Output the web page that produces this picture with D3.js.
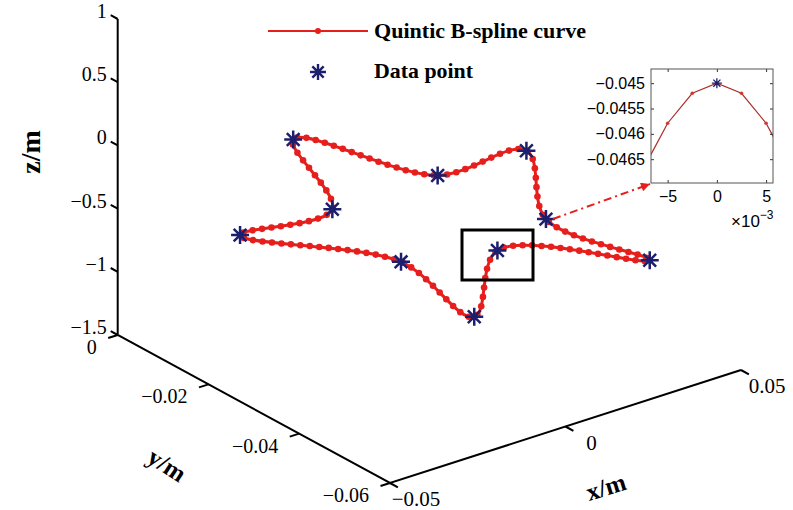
<!DOCTYPE html>
<html>
<head>
<meta charset="utf-8">
<script src="https://cdn.jsdelivr.net/npm/d3@7"></script>
<style>
body { margin: 0; background: #fff; }
text { font-family: "Liberation Serif", "Times New Roman", serif; }
.inset text { font-family: "Liberation Sans", Arial, sans-serif; }
</style>
</head>
<body>
<div id="chart"></div>
<script>
// data points of the star curve, metres
var pointX = [0, 0.014, 0.038, 0.019, 0.024, 0, -0.026, -0.021, -0.041, -0.016];
var pointY = [0, -0.021, -0.022, -0.041, -0.060, -0.045, -0.060, -0.040, -0.020, -0.021];
var pointZ = [-0.4, -0.4, -0.4, -0.4, -0.4, -0.4, -0.4, -0.4, -0.4, -0.4];

// axis ticks
var xTicks = [-0.05, 0, 0.05];
var yTicks = [0, -0.02, -0.04, -0.06];
var zTicks = [1, 0.5, 0, -0.5, -1, -1.5];

// inset: curve near the lower inner point (x in 1e-3)
var insetX = [-7.5, -5, -2.5, 0, 2.5, 5, 7.5];
var insetY = [-0.0467, -0.04579, -0.0452, -0.045, -0.0452, -0.04579, -0.0467];
var insetXTicks = [-5, 0, 5];
var insetYTicks = [-0.045, -0.0455, -0.046, -0.0465];

var width = 793, height = 510;
var red = "#e61f1d", navy = "#1b1f6e";

var svg = d3.select("#chart").append("svg")
    .attr("width", width)
    .attr("height", height);

// 3D -> screen (orthographic view, box corner at x=-0.05, y=-0.06, z=-1.5)
var xs = d3.scaleLinear().domain([-0.05, 0.05]).range([0, 1]);
var ys = d3.scaleLinear().domain([-0.06, 0]).range([0, 1]);
var zs = d3.scaleLinear().domain([-1.5, 1]).range([0, 1]);
var corner = [390, 483], ex = [351, -113], ey = [-272.3, -148], ez = [0, -316];

function proj(x, y, z) {
    var a = xs(x), b = ys(y), c = zs(z);
    return [corner[0] + a * ex[0] + b * ey[0] + c * ez[0],
            corner[1] + a * ex[1] + b * ey[1] + c * ez[1]];
}

function asterisk(r) {
    var a = r * 0.7071;
    return "M0," + (-r) + "L0," + r + "M" + (-r) + ",0L" + r + ",0" +
        "M" + (-a) + "," + (-a) + "L" + a + "," + a + "M" + (-a) + "," + a + "L" + a + "," + (-a);
}

function fmt(t) { return d3.format("~g")(t).replace("-", "\u2212"); }

// axes lines
var axes = svg.append("g").attr("stroke", "#000").attr("stroke-width", 2).attr("fill", "none");
axes.append("path").attr("d", d3.line()([proj(-0.05, 0, 1), proj(-0.05, 0, -1.5), proj(-0.05, -0.06, -1.5), proj(0.05, -0.06, -1.5)]));

// x ticks (point toward -y)
xTicks.forEach(function(t) {
    var p = proj(t, -0.06, -1.5);
    axes.append("line").attr("x1", p[0]).attr("y1", p[1]).attr("x2", p[0] + 7.9).attr("y2", p[1] + 4.3);
    svg.append("text").attr("x", p[0] + 26).attr("y", p[1] + 16)
        .attr("text-anchor", "middle").attr("dominant-baseline", "central")
        .attr("font-size", 21).text(fmt(t));
});
// y ticks (point toward -x)
yTicks.forEach(function(t) {
    var p = proj(-0.05, t, -1.5);
    axes.append("line").attr("x1", p[0]).attr("y1", p[1]).attr("x2", p[0] - 9.5).attr("y2", p[1] + 3);
    svg.append("text").attr("x", p[0] - 21).attr("y", p[1] + 12)
        .attr("text-anchor", "end").attr("dominant-baseline", "central")
        .attr("font-size", 20).text(fmt(t));
});
// z ticks (point toward +y)
zTicks.forEach(function(t) {
    var p = proj(-0.05, 0, t);
    axes.append("line").attr("x1", p[0]).attr("y1", p[1]).attr("x2", p[0] - 7).attr("y2", p[1] - 3.8);
    svg.append("text").attr("x", p[0] - 11).attr("y", p[1] - 8)
        .attr("text-anchor", "end").attr("dominant-baseline", "central")
        .attr("font-size", 20).text(fmt(t));
});

// axis labels
svg.append("text").attr("transform", "translate(30,152) rotate(-90)")
    .attr("text-anchor", "middle").attr("dominant-baseline", "central")
    .attr("font-size", 28).attr("font-weight", "bold").text("z/m");
svg.append("text").attr("transform", "translate(606,487) rotate(-17)")
    .attr("text-anchor", "middle").attr("dominant-baseline", "central")
    .attr("font-size", 25).attr("font-weight", "bold").text("x/m");
svg.append("text").attr("transform", "translate(167,465) rotate(33)")
    .attr("text-anchor", "middle").attr("dominant-baseline", "central")
    .attr("font-size", 25).attr("font-weight", "bold").text("y/m");

// spline curve through the data points
var pts = pointX.map(function(d, i) { return proj(pointX[i], pointY[i], pointZ[i]); });
var curve = svg.append("path")
    .attr("d", d3.line().curve(d3.curveCatmullRomClosed.alpha(0.5))(pts))
    .attr("fill", "none").attr("stroke", red).attr("stroke-width", 3);

var node = curve.node(), total = node.getTotalLength();
var samples = d3.range(0, total, 9.5).map(function(l) { return node.getPointAtLength(l); });
svg.append("g").selectAll("circle").data(samples).enter().append("circle")
    .attr("cx", function(d) { return d.x; }).attr("cy", function(d) { return d.y; })
    .attr("r", 3.3).attr("fill", red);

svg.append("g").selectAll("path").data(pts).enter().append("path")
    .attr("transform", function(d) { return "translate(" + d[0] + "," + d[1] + ")"; })
    .attr("d", asterisk(9)).attr("stroke", navy).attr("stroke-width", 2.5).attr("fill", "none");

// zoom box and arrow
var zoomBox = [462, 230, 533, 280];
svg.append("rect").attr("x", zoomBox[0]).attr("y", zoomBox[1])
    .attr("width", zoomBox[2] - zoomBox[0]).attr("height", zoomBox[3] - zoomBox[1])
    .attr("fill", "none").attr("stroke", "#000").attr("stroke-width", 3);

svg.append("defs").append("marker").attr("id", "arrow")
    .attr("viewBox", "0 0 10 10").attr("refX", 10).attr("refY", 5)
    .attr("markerWidth", 12).attr("markerHeight", 9).attr("markerUnits", "userSpaceOnUse")
    .attr("orient", "auto")
    .append("path").attr("d", "M0,0L10,5L0,10Z").attr("fill", red);
var arrow = [[553, 219], [650, 184]];
svg.append("path").attr("d", d3.line()(arrow))
    .attr("stroke", red).attr("stroke-width", 2).attr("fill", "none")
    .attr("stroke-dasharray", "8,4,2,4").attr("marker-end", "url(#arrow)");

// legend
var legend = svg.append("g");
legend.append("line").attr("x1", 268).attr("x2", 368).attr("y1", 31).attr("y2", 31)
    .attr("stroke", red).attr("stroke-width", 2);
legend.append("circle").attr("cx", 318).attr("cy", 31).attr("r", 3).attr("fill", red);
legend.append("text").attr("x", 374).attr("y", 38).attr("font-size", 21).attr("font-weight", "bold")
    .attr("textLength", 212).attr("lengthAdjust", "spacingAndGlyphs").text("Quintic B-spline curve");
legend.append("path").attr("transform", "translate(318,72)").attr("d", asterisk(8))
    .attr("stroke", navy).attr("stroke-width", 2.4).attr("fill", "none");
legend.append("text").attr("x", 374).attr("y", 78).attr("font-size", 21).attr("font-weight", "bold")
    .attr("textLength", 99).attr("lengthAdjust", "spacingAndGlyphs").text("Data point");

// inset plot
var ix = d3.scaleLinear().domain([-6.69, 5.7]).range([651, 773]);
var iy = d3.scaleLinear().domain([-0.04697, -0.04472]).range([183, 69]);
var inset = svg.append("g").attr("class", "inset");
inset.append("rect").attr("x", 651).attr("y", 69).attr("width", 122).attr("height", 114)
    .attr("fill", "#fff");
inset.append("clipPath").attr("id", "iclip").append("rect")
    .attr("x", 651).attr("y", 69).attr("width", 122).attr("height", 114);
var ig = inset.append("g").attr("clip-path", "url(#iclip)");
var ipts = insetX.map(function(d, i) { return [ix(insetX[i]), iy(insetY[i])]; });
ig.append("path").attr("d", d3.line()(ipts)).attr("fill", "none")
    .attr("stroke", "#a8302c").attr("stroke-width", 1.2);
ig.selectAll("circle").data(ipts).enter().append("circle")
    .attr("cx", function(d) { return d[0]; }).attr("cy", function(d) { return d[1]; })
    .attr("r", 1.8).attr("fill", "#d03a34");
inset.append("path").attr("transform", "translate(" + ix(0) + "," + iy(-0.045) + ")")
    .attr("d", asterisk(5)).attr("stroke", navy).attr("stroke-width", 1.3).attr("fill", "none");

function styleAxis(g) {
    g.selectAll(".domain").remove();
    g.selectAll("line").attr("stroke", "#333");
    g.selectAll("text").attr("font-size", 16).attr("fill", "#000");
}
inset.append("g").attr("transform", "translate(651,0)")
    .call(d3.axisLeft(iy).tickValues(insetYTicks).tickSizeInner(-3).tickSizeOuter(0).tickPadding(6)
        .tickFormat(fmt))
    .call(styleAxis);
inset.append("g").attr("transform", "translate(773,0)")
    .call(d3.axisRight(iy).tickValues(insetYTicks).tickSizeInner(-3).tickSizeOuter(0).tickFormat(""))
    .call(styleAxis);
inset.append("g").attr("transform", "translate(0,183)")
    .call(d3.axisBottom(ix).tickValues(insetXTicks).tickSizeInner(-3).tickSizeOuter(0).tickPadding(8)
        .tickFormat(fmt))
    .call(styleAxis);
inset.append("g").attr("transform", "translate(0,69)")
    .call(d3.axisTop(ix).tickValues(insetXTicks).tickSizeInner(-3).tickSizeOuter(0).tickFormat(""))
    .call(styleAxis);
inset.append("rect").attr("x", 651).attr("y", 69).attr("width", 122).attr("height", 114)
    .attr("fill", "none").attr("stroke", "#555").attr("stroke-width", 1);
var exp = inset.append("text").attr("x", 731).attr("y", 227).attr("font-size", 17);
exp.append("tspan").text("\u00d710");
exp.append("tspan").attr("dy", -8).attr("font-size", 12).text("\u22123");
</script>
</body>
</html>
